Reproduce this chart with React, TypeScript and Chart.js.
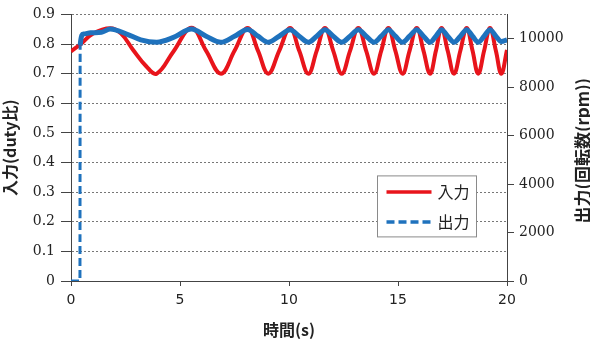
import React, { useEffect, useRef } from 'react';
import { Chart, registerables } from 'chart.js';

Chart.register(...registerables);

// ---- data ----
const inputTime = [0, 0.45, 1.0, 1.8, 2.3, 2.85, 3.45, 3.93, 4.7, 5.53, 6.2, 6.88, 7.5, 8.1, 8.58, 9.05, 9.55, 10.05, 10.47, 10.89, 11.27, 11.65, 12.03, 12.42, 12.8, 13.18, 13.54, 13.9, 14.23, 14.56, 14.88, 15.21, 15.53, 15.86, 16.17, 16.47, 16.74, 17.0, 17.28, 17.57, 17.86, 18.15, 18.42, 18.68, 18.95, 19.22, 19.49, 19.74, 20];
const inputDuty = [0.775, 0.8, 0.835, 0.853, 0.835, 0.78, 0.725, 0.7, 0.775, 0.855, 0.777, 0.7, 0.777, 0.854, 0.777, 0.7, 0.777, 0.854, 0.777, 0.7, 0.777, 0.854, 0.777, 0.7, 0.777, 0.854, 0.777, 0.7, 0.777, 0.854, 0.777, 0.7, 0.777, 0.854, 0.777, 0.7, 0.777, 0.854, 0.777, 0.7, 0.777, 0.854, 0.777, 0.7, 0.777, 0.854, 0.777, 0.7, 0.78];

const outputTime = [0, 0.41, 0.42, 0.57, 0.9, 1.4, 1.8, 2.55, 3.2, 3.93, 4.7, 5.53, 6.2, 6.88, 7.5, 8.1, 8.58, 9.05, 9.55, 10.05, 10.47, 10.89, 11.27, 11.65, 12.03, 12.42, 12.8, 13.18, 13.54, 13.9, 14.23, 14.56, 14.88, 15.21, 15.53, 15.86, 16.17, 16.47, 16.74, 17.0, 17.28, 17.57, 17.86, 18.15, 18.42, 18.68, 18.95, 19.22, 19.49, 19.74, 20];
const outputRpm = [0, 0, 9720, 10190, 10240, 10260, 10400, 10190, 9950, 9850, 10050, 10400, 10100, 9850, 10100, 10380, 10100, 9850, 10100, 10370, 10100, 9850, 10100, 10370, 10100, 9850, 10100, 10370, 10100, 9850, 10100, 10370, 10100, 9850, 10100, 10370, 10100, 9850, 10100, 10370, 10100, 9850, 10100, 10370, 10100, 9850, 10100, 10370, 10100, 9880, 9950];

const xTicks = [0, 5, 10, 15, 20];
const leftTicks = [0, 0.1, 0.2, 0.3, 0.4, 0.5, 0.6, 0.7, 0.8, 0.9];
const rightTicks = [0, 2000, 4000, 6000, 8000, 10000];

const seriesNames = ['入力', '出力'];
const xTitle = '時間(s)';
const leftTitle = '入力(duty比)';
const rightTitle = '出力(回転数(rpm))';
const xRange = [0, 20];
const leftRange = [0, 0.9];
const rightRange = [0, 11000];

const RED = '#e8141b';
const BLUE = '#1f72bd';

const extrasPlugin = {
  id: 'extras',
  afterDraw(chart: any) {
    const { ctx, chartArea } = chart;
    ctx.save();
    // right axis title (reads bottom to top)
    ctx.fillStyle = '#222';
    ctx.font = 'bold 17px "Noto Sans CJK JP"';
    ctx.textAlign = 'center';
    ctx.textBaseline = 'middle';
    ctx.translate(583, (chartArea.top + chartArea.bottom) / 2 + 3);
    ctx.rotate(-Math.PI / 2);
    ctx.fillText(rightTitle, 0, 0);
    ctx.restore();

    // legend box inside plot
    ctx.save();
    const bx = chartArea.right - 129.5;
    const by = chartArea.top + 161.5;
    const bw = 99;
    const bh = 61;
    ctx.fillStyle = '#ffffff';
    ctx.fillRect(bx, by, bw, bh);
    ctx.strokeStyle = '#8a8a8a';
    ctx.lineWidth = 1;
    ctx.strokeRect(bx, by, bw, bh);
    const items = [
      { color: RED, dash: [] as number[], y: by + 16 },
      { color: BLUE, dash: [8, 4], y: by + 46 },
    ];
    items.forEach((it, i) => {
      ctx.beginPath();
      ctx.setLineDash(it.dash);
      ctx.strokeStyle = it.color;
      ctx.lineWidth = 3.5;
      ctx.moveTo(bx + 9, it.y);
      ctx.lineTo(bx + 54, it.y);
      ctx.stroke();
      ctx.setLineDash([]);
      ctx.fillStyle = '#222';
      ctx.font = '16px "Noto Sans CJK JP"';
      ctx.textAlign = 'left';
      ctx.textBaseline = 'middle';
      ctx.fillText(seriesNames[i], bx + 60, it.y);
    });
    ctx.restore();
  },
};

export default function App() {
  const ref = useRef<HTMLCanvasElement>(null);
  useEffect(() => {
    if (!ref.current) return;
    const chart = new Chart(ref.current, {
      type: 'line',
      data: {
        datasets: [
          {
            label: seriesNames[0],
            data: inputTime.map((x, i) => ({ x, y: inputDuty[i] })),
            yAxisID: 'y',
            borderColor: RED,
            borderWidth: 4,
            pointRadius: 0,
            tension: 0.4,
            order: 2,
          },
          {
            label: seriesNames[1],
            data: outputTime.map((x, i) => ({ x, y: outputRpm[i] })),
            yAxisID: 'y2',
            borderColor: BLUE,
            borderWidth: 5,
            pointRadius: 0,
            cubicInterpolationMode: 'monotone',
            order: 1,
            segment: {
              borderDash: (c: any) => (c.p0DataIndex < 2 ? [8, 4] : []),
              borderWidth: (c: any) => (c.p0DataIndex < 2 ? 3 : 5),
            },
          } as any,
        ],
      },
      options: {
        responsive: false,
        animation: false,
        devicePixelRatio: 1,
        layout: { padding: { top: 14, left: 0, right: 0, bottom: 0 } },
        plugins: { legend: { display: false }, tooltip: { enabled: false } },
        scales: {
          x: {
            type: 'linear',
            min: xRange[0],
            max: xRange[1],
            afterBuildTicks: (s: any) => {
              s.ticks = xTicks.map((v) => ({ value: v }));
            },
            ticks: { font: { family: 'DejaVu Sans', size: 14 }, color: '#222', padding: 6, callback: (v: any) => String(v) },
            grid: { drawOnChartArea: false, tickLength: 5, tickColor: '#444' },
            border: { display: true, color: '#444', width: 1 },
            title: {
              display: true,
              text: xTitle,
              font: { family: 'Noto Sans CJK JP', size: 16, weight: 'bold' },
              color: '#222',
              padding: { top: 0, bottom: 0 },
            },
            afterFit: (s: any) => {
              s.height = 59;
            },
          },
          y: {
            type: 'linear',
            position: 'left',
            min: leftRange[0],
            max: leftRange[1],
            afterBuildTicks: (s: any) => {
              s.ticks = leftTicks.map((v) => ({ value: v }));
            },
            ticks: {
              font: { family: 'DejaVu Serif', size: 14 },
              color: '#222',
              padding: 6,
              callback: (v: any) => (Number(v) === 0 ? '0' : Number(v).toFixed(1)),
            },
            grid: { color: '#777', lineWidth: 1, tickLength: 10, tickColor: '#444' },
            border: { display: true, color: '#444', width: 1, dash: [2, 2] },
            title: {
              display: true,
              text: leftTitle,
              font: { family: 'Noto Sans CJK JP', size: 16, weight: 'bold' },
              color: '#222',
              padding: { top: 0, bottom: 0 },
            },
            afterFit: (s: any) => {
              s.width = 71;
            },
          },
          y2: {
            type: 'linear',
            position: 'right',
            min: rightRange[0],
            max: rightRange[1],
            afterBuildTicks: (s: any) => {
              s.ticks = rightTicks.map((v) => ({ value: v }));
            },
            ticks: {
              font: { family: 'DejaVu Serif', size: 14 },
              color: '#222',
              padding: 5,
              callback: (v: any) => String(v),
            },
            grid: { drawOnChartArea: false, tickLength: 7, tickColor: '#444' },
            border: { display: true, color: '#444', width: 1 },
            afterFit: (s: any) => {
              s.width = 83;
            },
          },
        },
      } as any,
      plugins: [extrasPlugin],
    });
    return () => chart.destroy();
  }, []);
  return (
    <div style={{ position: 'absolute', left: 0, top: 0, width: 590, height: 340, background: '#fff' }}>
      <canvas ref={ref} width={590} height={340} />
    </div>
  );
}
